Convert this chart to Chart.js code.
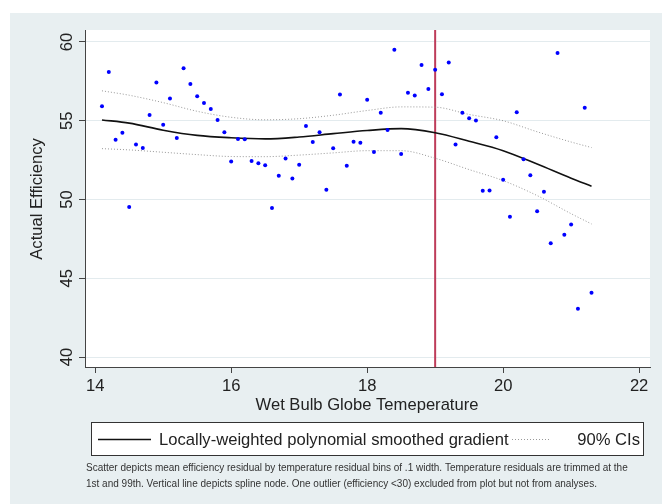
<!DOCTYPE html>
<html>
<head>
<meta charset="utf-8">
<script src="https://cdn.jsdelivr.net/npm/chart.js@4.4.0/dist/chart.umd.min.js"></script>
<style>
html, body { margin: 0; padding: 0; background: #fff; }
</style>
</head>
<body>
<canvas id="rel1" width="662" height="504"></canvas>
<script>
// binned scatter: temperature vs mean efficiency
var temp = [14.1, 14.2, 14.3, 14.4, 14.5, 14.6, 14.7, 14.8, 14.9, 15.0,
    15.1, 15.2, 15.3, 15.4, 15.5, 15.6, 15.7, 15.8, 15.9, 16.0,
    16.1, 16.2, 16.3, 16.4, 16.5, 16.6, 16.7, 16.8, 16.9, 17.0,
    17.1, 17.2, 17.3, 17.4, 17.5, 17.6, 17.7, 17.8, 17.9, 18.0,
    18.1, 18.2, 18.3, 18.4, 18.5, 18.6, 18.7, 18.8, 18.9, 19.0,
    19.1, 19.2, 19.3, 19.4, 19.5, 19.6, 19.7, 19.8, 19.9, 20.0,
    20.1, 20.2, 20.3, 20.4, 20.5, 20.6, 20.7, 20.8, 20.9, 21.0,
    21.1, 21.2, 21.3];
var efficiency = [55.92, 58.10, 53.80, 54.24, 49.52, 53.50, 53.27, 55.37, 57.42, 54.75,
    56.42, 53.90, 58.33, 57.33, 56.55, 56.13, 55.75, 55.05, 54.27, 52.42,
    53.84, 53.82, 52.44, 52.30, 52.17, 49.46, 51.51, 52.61, 51.34, 52.21,
    54.67, 53.65, 54.27, 50.62, 53.25, 56.66, 52.15, 53.67, 53.61, 56.34,
    53.02, 55.51, 54.41, 59.51, 52.89, 56.78, 56.61, 58.54, 57.02, 58.24,
    56.68, 58.69, 53.50, 55.51, 55.16, 55.02, 50.56, 50.58, 53.95, 51.26,
    48.91, 55.54, 52.55, 51.54, 49.25, 50.50, 47.22, 59.30, 47.77, 48.42,
    43.07, 55.83, 44.08];

// smoothed fit and 90% CIs
var fitX = [14.1, 14.5, 15.0, 15.5, 16.0, 16.5, 17.0, 17.5, 18.0, 18.5, 19.0, 19.5, 20.0, 20.5, 21.0, 21.3];
var fitY = [55.05, 54.85, 54.40, 54.07, 53.92, 53.85, 53.97, 54.18, 54.38, 54.50, 54.24, 53.70, 53.10, 52.25, 51.35, 50.85];
var ciHigh = [56.90, 56.62, 56.15, 55.60, 55.22, 55.06, 55.13, 55.35, 55.65, 55.88, 55.86, 55.40, 55.00, 54.30, 53.65, 53.30];
var ciLow = [53.23, 53.15, 53.00, 52.85, 52.73, 52.72, 52.82, 52.96, 53.10, 53.10, 52.62, 51.90, 51.20, 50.25, 49.10, 48.45];

var splineNode = 19;
var xTicks = [14, 16, 18, 20, 22];
var yTicks = [40, 45, 50, 55, 60];
var xMin = 13.85, xMax = 22.16;
var yMin = 39.37, yMax = 60.76;

var FONT = '"Liberation Sans", Arial, Helvetica, sans-serif';
var BIG = '16.6px ' + FONT;

function pairs(xs, ys) {
    return xs.map(function (x, i) { return { x: x, y: ys[i] }; });
}

var decor = {
    id: 'decor',
    beforeDraw: function (chart) {
        var ctx = chart.ctx, a = chart.chartArea;
        ctx.save();
        ctx.fillStyle = '#ffffff';
        ctx.fillRect(0, 0, chart.width, chart.height);
        ctx.fillStyle = '#e8eff1';
        ctx.fillRect(10, 13, chart.width - 10, chart.height - 13);
        ctx.fillStyle = '#ffffff';
        ctx.fillRect(a.left, a.top, a.right - a.left, a.bottom - a.top);
        ctx.restore();
    },
    afterDraw: function (chart) {
        var ctx = chart.ctx, ys = chart.scales.y;
        ctx.save();
        ctx.fillStyle = '#222';
        ctx.font = BIG;
        ctx.textAlign = 'center';
        ctx.textBaseline = 'middle';
        // rotated y tick labels
        yTicks.forEach(function (v) {
            ctx.save();
            ctx.translate(66, ys.getPixelForValue(v));
            ctx.rotate(-Math.PI / 2);
            ctx.fillText(String(v), 0, 1);
            ctx.restore();
        });
        // axis titles
        ctx.save();
        ctx.translate(37, 199);
        ctx.rotate(-Math.PI / 2);
        ctx.fillText('Actual Efficiency', 0, 0);
        ctx.restore();
        ctx.fillText('Wet Bulb Globe Temeperature', 367, 405);

        // legend box
        ctx.fillStyle = '#ffffff';
        ctx.fillRect(91, 422, 553, 34);
        ctx.strokeStyle = '#333';
        ctx.lineWidth = 1;
        ctx.strokeRect(91.5, 422.5, 552, 33);
        ctx.strokeStyle = '#111';
        ctx.lineWidth = 1.6;
        ctx.beginPath();
        ctx.moveTo(98, 439.5);
        ctx.lineTo(151, 439.5);
        ctx.stroke();
        ctx.strokeStyle = '#999';
        ctx.lineWidth = 1;
        ctx.setLineDash([1, 2]);
        ctx.beginPath();
        ctx.moveTo(512, 439.5);
        ctx.lineTo(550, 439.5);
        ctx.stroke();
        ctx.setLineDash([]);
        ctx.fillStyle = '#222';
        ctx.textAlign = 'left';
        ctx.fillText('Locally-weighted polynomial smoothed gradient', 159, 440);
        ctx.textAlign = 'right';
        ctx.fillText('90% CIs', 640, 440);

        // note
        ctx.textAlign = 'left';
        ctx.fillStyle = '#333';
        ctx.font = '10px ' + FONT;
        ctx.fillText('Scatter depicts mean efficiency residual by temperature residual bins of .1 width. Temperature residuals are trimmed at the', 86, 468);
        ctx.fillText('1st and 99th. Vertical line depicts spline node. One outlier (efficiency <30) excluded from plot but not from analyses.', 86, 484);
        ctx.restore();
    }
};

var rel1 = new Chart(document.getElementById('rel1'), {
    type: 'scatter',
    data: {
        datasets: [{
                label: 'Bins',
                data: pairs(temp, efficiency),
                backgroundColor: '#0000ff',
                borderColor: '#0000ff',
                pointRadius: 2,
                pointBorderWidth: 0,
                order: 0
            },
            {
                label: 'Locally-weighted polynomial smoothed gradient',
                data: pairs(fitX, fitY),
                showLine: true,
                fill: false,
                borderColor: '#111',
                borderWidth: 1.6,
                pointRadius: 0,
                cubicInterpolationMode: 'monotone',
                order: 1
            },
            {
                label: '90% CIs',
                data: pairs(fitX, ciHigh),
                showLine: true,
                fill: false,
                borderColor: '#999',
                borderWidth: 1,
                borderDash: [1, 2],
                pointRadius: 0,
                cubicInterpolationMode: 'monotone',
                order: 2
            },
            {
                label: '90% CIs low',
                data: pairs(fitX, ciLow),
                showLine: true,
                fill: false,
                borderColor: '#999',
                borderWidth: 1,
                borderDash: [1, 2],
                pointRadius: 0,
                cubicInterpolationMode: 'monotone',
                order: 2
            },
            {
                label: 'Spline node',
                data: [{ x: splineNode, y: yMin }, { x: splineNode, y: yMax }],
                showLine: true,
                borderColor: '#be3c5a',
                borderWidth: 2,
                pointRadius: 0,
                order: 3
            }]
    },
    options: {
        responsive: false,
        animation: false,
        devicePixelRatio: 1,
        layout: { padding: { left: 0, top: 30, right: 12, bottom: 0 } },
        plugins: {
            legend: { display: false },
            tooltip: { enabled: false }
        },
        scales: {
            x: {
                type: 'linear',
                min: xMin,
                max: xMax,
                afterBuildTicks: function (s) { s.ticks = xTicks.map(function (v) { return { value: v }; }); },
                afterFit: function (s) { s.height = 137; },
                grid: { drawOnChartArea: false, tickLength: 6, tickColor: '#444' },
                border: { color: '#444', width: 1 },
                ticks: { color: '#222', font: { size: 16.6, family: FONT }, padding: 3, maxRotation: 0 }
            },
            y: {
                type: 'linear',
                min: yMin,
                max: yMax,
                afterBuildTicks: function (s) { s.ticks = yTicks.map(function (v) { return { value: v }; }); },
                afterFit: function (s) { s.width = 85; },
                grid: { color: '#e3ebee', tickLength: 6, tickColor: '#444' },
                border: { color: '#444', width: 1 },
                ticks: { display: false }
            }
        }
    },
    plugins: [decor]
});
</script>
</body>
</html>
